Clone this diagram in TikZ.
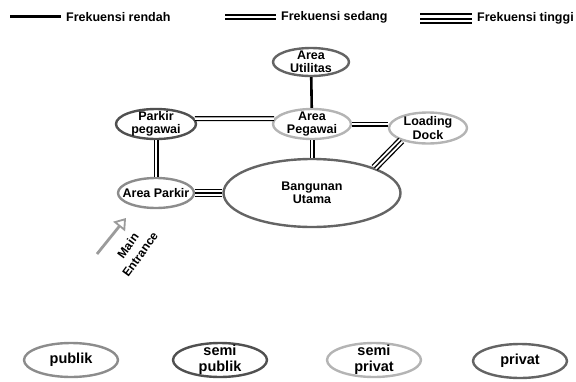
\documentclass[tikz,border=0pt]{standalone}
\usepackage{fontspec}
\setmainfont{Liberation Sans}
\usetikzlibrary{shapes.geometric, arrows.meta}

\definecolor{publik}{RGB}{140,140,140}
\definecolor{semipublik}{RGB}{80,80,80}
\definecolor{semiprivat}{RGB}{180,180,180}
\definecolor{privat}{RGB}{100,100,100}
\definecolor{panah}{RGB}{155,155,155}

\begin{document}
\begin{tikzpicture}[x=1pt, y=-1pt,
    ruang/.style={ellipse, draw, line width=2.4pt, inner sep=0pt},
    every label/.style={align=center, font=\bfseries\fontsize{12.5}{13.5}\selectfont},
    ket/.style={anchor=west, inner sep=0pt, font=\bfseries\fontsize{12.5}{14}\selectfont},
    zona/.style={ellipse, draw, line width=2.4pt, inner sep=0pt, minimum width=94, minimum height=34},
    rendah/.style={line width=2.6pt},
    sedang/.style={double, double distance=2.4pt, line width=1.3pt},
    tinggi/.style={line width=1.3pt, preaction={draw, double, double distance=5.3pt, line width=1.3pt}}]
\useasboundingbox (0,0) rectangle (576,381);

% keterangan frekuensi
\node[ket] (krendah) at (66,17) {Frekuensi rendah};
\node[ket] (ksedang) at (281,17) {Frekuensi sedang};
\node[ket] (ktinggi) at (477,18) {Frekuensi tinggi};
\coordinate (grendah) at (10,16.5);
\coordinate (gsedang) at (225,17);
\coordinate (gtinggi) at (420,18.5);
\draw [line width=3pt] (grendah) -- ([xshift=-5pt]grendah -| krendah.west);
\draw [double, double distance=2.4pt, line width=1.9pt] (gsedang) -- ([xshift=-5pt]gsedang -| ksedang.west);
\draw [line width=2pt, preaction={draw, double, double distance=6.8pt, line width=2pt}] (gtinggi) -- ([xshift=-5pt]gtinggi -| ktinggi.west);

% ruang
\node[ruang, draw=privat, minimum width=76, minimum height=28, label=center:{Area\\Utilitas}] (ut) at (311,62) {};
\node[ruang, draw=semipublik, minimum width=80, minimum height=30, label=center:{Parkir\\pegawai}] (pp) at (156,124) {};
\node[ruang, draw=semiprivat, minimum width=78, minimum height=30, label=center:{Area\\Pegawai}] (ap) at (312,124) {};
\node[ruang, draw=semiprivat, minimum width=78, minimum height=31, label=center:{Loading\\Dock}] (ld) at (428,128) {};
\node[ruang, draw=publik, minimum width=76, minimum height=30, label=center:{Area Parkir}] (pk) at (156,193) {};
\node[ruang, draw=privat, minimum width=177, minimum height=68, label=center:{Bangunan\\Utama}] (bu) at (312,193) {};

% hubungan
\draw [rendah] (ut) -- (ap);
\draw [sedang] (pp.8) -- (ap.172);
\draw [sedang] (ap.east) -- (ap.east -| ld.west);
\draw [sedang] (ap) -- (bu);
\draw [sedang] (pp) -- (pk);
\draw [tinggi] (pk) -- (bu);
\draw [tinggi] (ld.205) -- (bu.22);

% main entrance
\coordinate (masuk0) at (97,254);
\coordinate (masuk1) at (126,218);
\draw [panah, line width=2.8pt, -{Triangle[open, length=11pt, width=15pt, line width=1.8pt]}] (masuk0) -- (masuk1);
\node[rotate=54, align=center, inner sep=0pt, font=\bfseries\fontsize{12}{15}\selectfont] (me) at (134,250) {Main\\Entrance};

% zona
\node[zona, draw=publik, label={[font=\bfseries\fontsize{14.5}{16}\selectfont]center:publik}] (zpublik) at (71,360) {};
\node[zona, draw=semipublik, label={[font=\bfseries\fontsize{14.5}{16}\selectfont]center:{semi\\publik}}] (zsemipublik) at (220,360) {};
\node[zona, draw=semiprivat, label={[font=\bfseries\fontsize{14.5}{16}\selectfont]center:{semi\\privat}}] (zsemiprivat) at (374,360) {};
\node[zona, draw=privat, label={[font=\bfseries\fontsize{14.5}{16}\selectfont]center:privat}] (zprivat) at (520,361) {};
\end{tikzpicture}
\end{document}
